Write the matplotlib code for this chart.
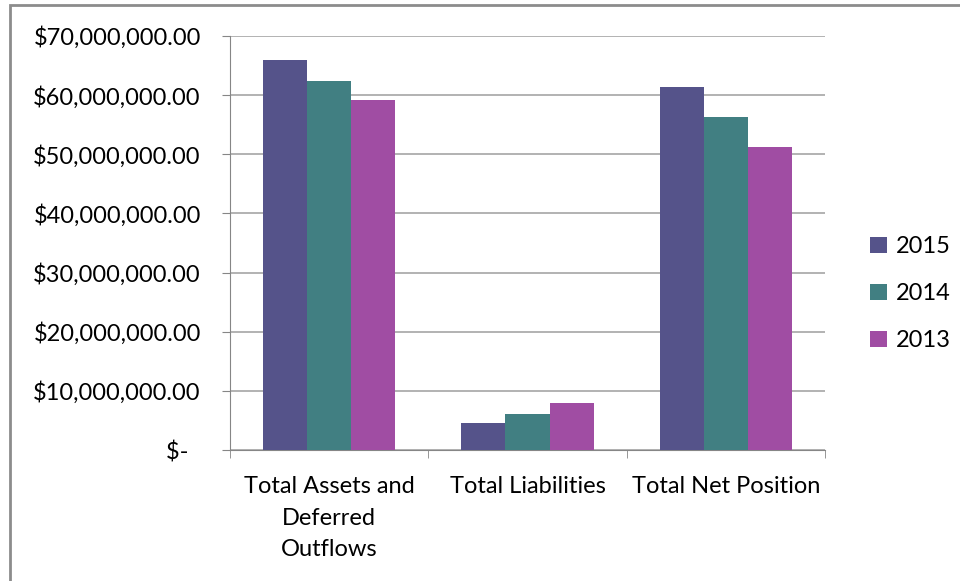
import numpy as np
import matplotlib.pyplot as plt
from matplotlib.patches import Rectangle

categories = ["Total Assets and\nDeferred\nOutflows", "Total Liabilities", "Total Net Position"]
years = ["2015", "2014", "2013"]
values_2015 = [66.0e6, 4.6e6, 61.4e6]
values_2014 = [62.4e6, 6.1e6, 56.3e6]
values_2013 = [59.2e6, 8.0e6, 51.2e6]
colors = ["#55538A", "#417F82", "#A04DA3"]

plt.rcParams["font.family"] = ["Lato", "DejaVu Sans"]
fs = 17

fig = plt.figure(figsize=(9.6, 5.81), dpi=100)
ax = fig.add_axes([230 / 960, 1 - 450 / 581, 595 / 960, 414 / 581])

x = np.arange(len(categories))
w = 0.222
series = [values_2015, values_2014, values_2013]
for i, (vals, yr, c) in enumerate(zip(series, years, colors)):
    ax.bar(x + (i - 1) * w, vals, w, color=c, label=yr, zorder=3)

ax.set_xlim(-0.5, 2.5)
ax.set_ylim(0, 70e6)
ticks = np.arange(0, 70e6 + 1, 10e6)
ax.set_yticks(ticks)
ax.set_yticklabels(["$-  "] + [f"${t:,.2f}" for t in ticks[1:]])
ax.set_xticks(x)
ax.set_xticklabels(categories, linespacing=1.62)
ax.set_xticks([-0.5, 0.5, 1.5, 2.5], minor=True)
ax.tick_params(axis="x", which="major", length=0, labelsize=fs, pad=19)
ax.tick_params(axis="x", which="minor", length=6, color="#868686", direction="out")
ax.tick_params(axis="y", length=6, color="#868686", labelsize=fs, pad=15)
ax.grid(axis="y", color="#A6A6A6", linewidth=1.2, zorder=0)
for side in ["top", "right"]:
    ax.spines[side].set_visible(False)
ax.spines["left"].set_color("#868686")
ax.spines["bottom"].set_color("#868686")

ax.legend(loc="center left", bbox_to_anchor=(1.04, 0.377), frameon=False,
          fontsize=fs, handlelength=0.7, handleheight=0.7, labelspacing=1.1,
          handletextpad=0.4)

fig.patches.append(Rectangle((10 / 960, -0.01), 1.1, 1 - 5 / 581 + 0.01,
                             transform=fig.transFigure, fill=False,
                             edgecolor="#8C8C8C", linewidth=2))

fig.savefig("out.png", dpi=100)
